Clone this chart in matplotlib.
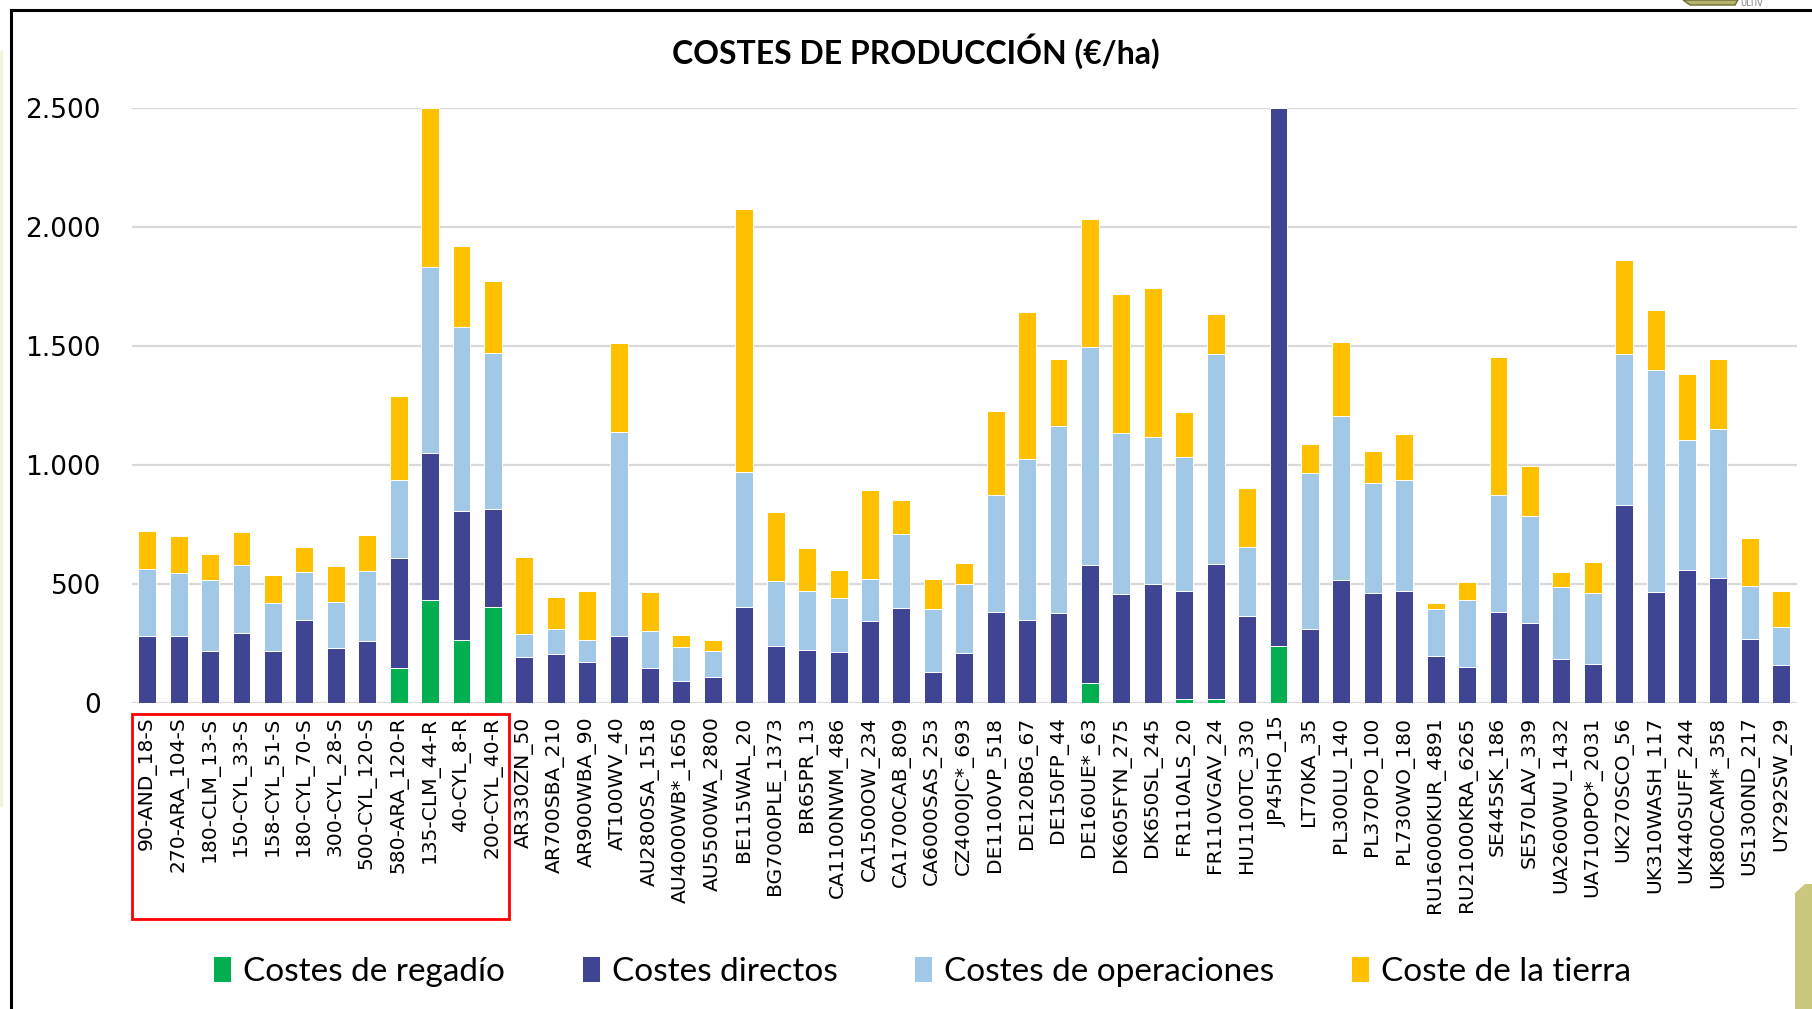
import matplotlib
matplotlib.use("Agg")
import matplotlib.pyplot as plt
import matplotlib.transforms as mtransforms
from matplotlib.patches import Rectangle, Polygon
from matplotlib.ticker import FuncFormatter, MultipleLocator
import numpy as np

categories = [
    "90-AND_18-S", "270-ARA_104-S", "180-CLM_13-S", "150-CYL_33-S", "158-CYL_51-S",
    "180-CYL_70-S", "300-CYL_28-S", "500-CYL_120-S", "580-ARA_120-R", "135-CLM_44-R",
    "40-CYL_8-R", "200-CYL_40-R",
    "AR330ZN_50", "AR700SBA_210", "AR900WBA_90", "AT100WV_40", "AU2800SA_1518",
    "AU4000WB*_1650", "AU5500WA_2800", "BE115WAL_20", "BG7000PLE_1373", "BR65PR_13",
    "CA1100NWM_486", "CA1500OW_234", "CA1700CAB_809", "CA6000SAS_253", "CZ4000JC*_693",
    "DE1100VP_518", "DE120BG_67", "DE150FP_44", "DE160UE*_63", "DK605FYN_275",
    "DK650SL_245", "FR110ALS_20", "FR110VGAV_24", "HU1100TC_330", "JP45HO_15",
    "LT70KA_35", "PL300LU_140", "PL370PO_100", "PL730WO_180", "RU16000KUR_4891",
    "RU21000KRA_6265", "SE445SK_186", "SE570LAV_339", "UA2600WU_1432", "UA7100PO*_2031",
    "UK270SCO_56", "UK310WASH_117", "UK440SUFF_244", "UK800CAM*_358", "US1300ND_217",
    "UY292SW_29",
]

# Segment values (€/ha), stacked bottom to top
costes_regadio = [
    0, 0, 0, 0, 0, 0, 0, 0, 150, 434, 266, 403,
    0, 0, 0, 0, 0, 0, 0, 0, 0, 0, 0, 0, 0, 0, 0, 0, 0, 0, 87, 0, 0, 17, 17, 0, 243,
    0, 0, 0, 0, 0, 0, 0, 0, 0, 0, 0, 0, 0, 0, 0, 0,
]
costes_directos = [
    284, 284, 220, 295, 220, 351, 231, 262, 460, 617, 544, 415,
    193, 206, 175, 282, 147, 96, 112, 403, 241, 224, 216, 347, 401, 131, 212, 384, 351, 378,
    496, 459, 503, 457, 567, 366, 2257,
    312, 517, 463, 473, 199, 154, 384, 336, 185, 166, 833, 469, 559, 525, 270, 162,
]
costes_operaciones = [
    281, 266, 299, 288, 200, 203, 197, 295, 327, 782, 770, 656,
    100, 106, 91, 860, 156, 139, 110, 569, 274, 247, 226, 176, 309, 266, 290, 490, 677, 789,
    914, 679, 616, 560, 882, 290, 0,
    658, 689, 465, 466, 196, 280, 490, 453, 305, 299, 635, 930, 548, 627, 224, 160,
]
coste_tierra = [
    160, 154, 110, 137, 120, 102, 149, 151, 353, 667, 343, 301,
    322, 135, 208, 372, 166, 54, 46, 1106, 289, 183, 119, 374, 145, 124, 90, 355, 617, 280,
    540, 583, 625, 189, 170, 247, 0,
    120, 312, 131, 195, 27, 75, 582, 210, 62, 129, 395, 254, 278, 297, 200, 149,
]

series_names = ["Costes de regadío", "Costes directos", "Costes de operaciones", "Coste de la tierra"]
series_colors = ["#00B050", "#3F4593", "#A2C8E8", "#FFC000"]
title = "COSTES DE PRODUCCIÓN (€/ha)"

W, H = 1812, 1009
plt.rcParams["hatch.color"] = "white"
plt.rcParams["hatch.linewidth"] = 1.5
fig = plt.figure(figsize=(W / 100, H / 100), dpi=100)
fig.patch.set_facecolor("white")

ax_left, ax_right = 131.5 / W, 1797 / W
ax_top, ax_bot = 1 - 108.4 / H, 1 - 703.4 / H
ax = fig.add_axes([ax_left, ax_bot, ax_right - ax_left, ax_top - ax_bot])

x = np.arange(len(categories))
bottom = np.zeros(len(categories))
handles = []
for vals, name, col in zip([costes_regadio, costes_directos, costes_operaciones, coste_tierra],
                           series_names, series_colors):
    v = np.array(vals, dtype=float)
    h = ax.bar(x, v, 0.57, bottom=bottom, color=col, edgecolor="white", linewidth=0.7,
               label=name, zorder=3)
    handles.append(h)
    bottom += v

ax.set_xlim(-0.5, len(categories) - 0.5)
ax.set_ylim(0, 2500)
ax.yaxis.set_major_locator(MultipleLocator(500))
ax.yaxis.set_major_formatter(FuncFormatter(lambda v, p: f"{int(v):,}".replace(",", ".")))
ax.grid(axis="y", color="#D9D9D9", linewidth=1.6, zorder=0)
ax.set_axisbelow(True)
for s in ax.spines.values():
    s.set_visible(False)
ax.tick_params(axis="both", length=0)
ax.tick_params(axis="y", labelsize=19, pad=22, labelcolor="black")
ax.set_xticks(x)
ax.set_xticklabels(categories, rotation=90, fontsize=14.6, family="DejaVu Sans")
ax.tick_params(axis="x", pad=9.5)
for lbl in ax.get_yticklabels():
    lbl.set_family("DejaVu Sans")

# title
fig.text(916 / W, 1 - 51 / H, title, ha="center", va="center", fontsize=23,
         fontweight="bold", family=["Lato", "DejaVu Sans"])

# red highlight box around Spanish farms
trans = mtransforms.blended_transform_factory(ax.transData, fig.transFigure)
y0, y1 = 1 - 919.3 / H, 1 - 714 / H
ax.add_patch(Rectangle((-0.5, y0), 12.0, y1 - y0, transform=trans, fill=False,
                       edgecolor="#FF0000", linewidth=2.0, clip_on=False, zorder=5))

# legend
leg = fig.legend(handles=handles, labels=series_names, loc="center",
                 bbox_to_anchor=(922 / W, 1 - 971.5 / H), ncol=4, frameon=False,
                 prop={"family": ["Lato", "DejaVu Sans"], "size": 24},
                 handlelength=0.55, handleheight=0.8, handletextpad=0.35,
                 columnspacing=2.3)

# outer frame
fig.add_artist(plt.Line2D([11 / W, 11 / W], [0, 1 - 10 / H], transform=fig.transFigure,
                          color="black", linewidth=2.2))
fig.add_artist(plt.Line2D([11 / W, 1], [1 - 10 / H, 1 - 10 / H], transform=fig.transFigure,
                          color="black", linewidth=2.2))

# decorations: faint left stripe, logo fragment, striped corner
fig.add_artist(Rectangle((0, 0.2), 3 / W, 0.75, transform=fig.transFigure,
                         facecolor="#F4F4D8", edgecolor="none"))
fig.add_artist(Polygon([[1683 / W, 1.0], [1690 / W, 1 - 5 / H], [1735 / W, 1 - 5 / H],
                        [1738 / W, 1.0]], closed=True, transform=fig.transFigure,
                       facecolor="#B5B36A", edgecolor="#6E6C38", linewidth=1.0))
fig.text(1740 / W, 1 - 8.5 / H, "ULTIV", ha="left", va="bottom", fontsize=6,
         color="#7A7A7A", family=["DejaVu Sans"])
corner = Polygon([[1795 / W, 0], [1795 / W, 1 - 893 / H], [1805 / W, 1 - 884 / H],
                  [1, 1 - 884 / H], [1, 0]], closed=True, transform=fig.transFigure,
                 facecolor="#C8C77C", edgecolor="none", hatch="\\\\")
fig.add_artist(corner)

fig.savefig("out.png", dpi=100, facecolor="white")
